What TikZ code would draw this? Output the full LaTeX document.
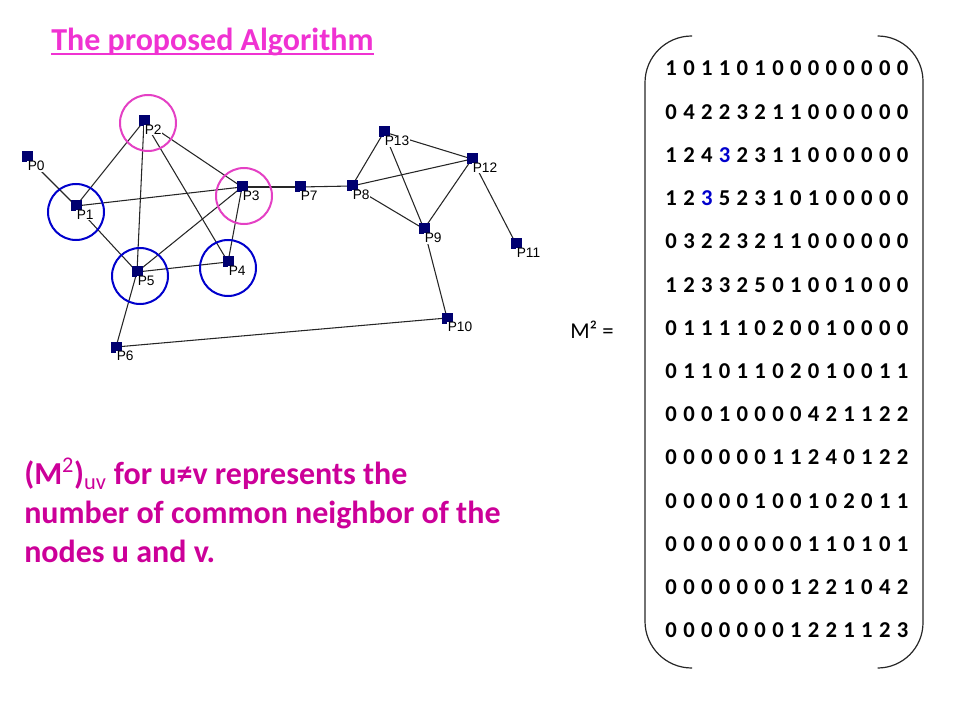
\documentclass[tikz,border=0pt]{standalone}
\usepackage{fontspec}
\setmainfont{Carlito}
\newfontfamily\peerfont{Liberation Sans}
\usetikzlibrary{backgrounds}

\definecolor{titlepink}{RGB}{240,50,210}
\definecolor{textmagenta}{RGB}{204,0,153}
\definecolor{ringpink}{RGB}{228,64,196}
\definecolor{ringblue}{RGB}{0,0,204}
\definecolor{peernavy}{RGB}{0,0,112}
\definecolor{hlblue}{RGB}{0,0,204}
\newcommand\hl[1]{\textcolor{hlblue}{#1}}
\newcommand\matfont{\fontsize{17pt}{20pt}\selectfont\bfseries\spaceskip 4.73pt\relax}

\begin{document}
\begin{tikzpicture}[x=0.75pt,y=-0.75pt,
        peer/.style={rectangle,fill=peernavy,minimum size=8.25pt,inner sep=0pt},
        peerlabel/.style={anchor=north west,fill=white,inner sep=0.4pt,
            font=\peerfont\fontsize{10.3pt}{12pt}\selectfont},
        link/.style={draw=black!85,line width=0.8pt},
        ring/.style={line width=1.5pt},
        matrow/.style={anchor=base west,inner sep=0pt,font=\matfont}]
    \useasboundingbox (0,0) rectangle (960,720);

    % Title with its underline.
    \node[anchor=base west,inner sep=0pt,text=titlepink,
        font=\fontsize{24pt}{29pt}\selectfont\bfseries] (title) at (51,50.5)
        {The proposed Algorithm};
    \draw[titlepink,line width=1.5pt]
        ([yshift=-3pt]title.base west) -- ([yshift=-3pt]title.base east);

    %% Peers of the network and their labels.
    \foreach \name/\x/\y in {P0/27/157,P1/76/206,P2/144/121,P3/242/187,
        P4/228/262,P5/137/272,P6/116/347,P7/300/187,P8/352/186,
        P9/424/229,P10/447/318,P11/516/244,P12/472/159,P13/384/132} {
        \node[peer] (\name) at (\x,\y) {};
        \node[peerlabel] (l\name) at ([yshift=-2.6pt]\name.center) {\name};
    }

    % Links go behind the peers.
    \begin{scope}[on background layer]
        \foreach \a/\b in {P0/P1,P1/P2,P1/P3,P1/P5,P2/P5,P2/P3,P2/P4,
            P3/P5,P3/P4,P5/P4,P5/P6,P6/P10,P3/P7,P7/P8,P8/P13,P8/P12,
            P8/P9,P13/P12,P13/P9,P12/P9,P12/P11,P9/P10} {
            \draw[link] (\a.center) -- (\b.center);
        }
    \end{scope}

    % Rings round the peers in question.
    \foreach \name/\col/\dx/\dy in {P2/ringpink/4/2,P3/ringpink/2/9,
        P1/ringblue/0/6,P5/ringblue/3/4,P4/ringblue/0/6} {
        \draw[ring,\col] (\name.center) ++(\dx,\dy) circle (28);
    }

    % Explanation.
    \node[anchor=north west,inner sep=0pt,align=left,text=textmagenta,
        font=\fontsize{24pt}{29pt}\selectfont\bfseries] (note) at (24,458)
        {(M\textsuperscript{\mdseries 2})\textsubscript{\mdseries uv} for u≠v represents the\\
         number of common neighbor of the\\
         nodes u and v.};

    %% The matrix M^2.
    \node[anchor=base west,inner sep=0pt,font=\fontsize{17pt}{20pt}\selectfont]
        (msq) at (570,338) {M² =};
    \draw[line width=0.9pt,black!85,rounded corners=35pt]
        (692,36) -- (645,36) -- (645,668) -- (692,668);
    \draw[line width=0.9pt,black!85,rounded corners=34pt]
        (878,36) -- (923,36) -- (923,668) -- (878,668);
    \foreach \digits [count=\i] in {
        {1 0 1 1 0 1 0 0 0 0 0 0 0 0},
        {0 4 2 2 3 2 1 1 0 0 0 0 0 0},
        {1 2 4 \hl{3} 2 3 1 1 0 0 0 0 0 0},
        {1 2 \hl{3} 5 2 3 1 0 1 0 0 0 0 0},
        {0 3 2 2 3 2 1 1 0 0 0 0 0 0},
        {1 2 3 3 2 5 0 1 0 0 1 0 0 0},
        {0 1 1 1 1 0 2 0 0 1 0 0 0 0},
        {0 1 1 0 1 1 0 2 0 1 0 0 1 1},
        {0 0 0 1 0 0 0 0 4 2 1 1 2 2},
        {0 0 0 0 0 0 1 1 2 4 0 1 2 2},
        {0 0 0 0 0 1 0 0 1 0 2 0 1 1},
        {0 0 0 0 0 0 0 0 1 1 0 1 0 1},
        {0 0 0 0 0 0 0 1 2 2 1 0 4 2},
        {0 0 0 0 0 0 0 1 2 2 1 1 2 3}} {
        \node[matrow] (row\i) at (665.2,{76+43.2*(\i-1)}) {\digits};
    }
\end{tikzpicture}
\end{document}
